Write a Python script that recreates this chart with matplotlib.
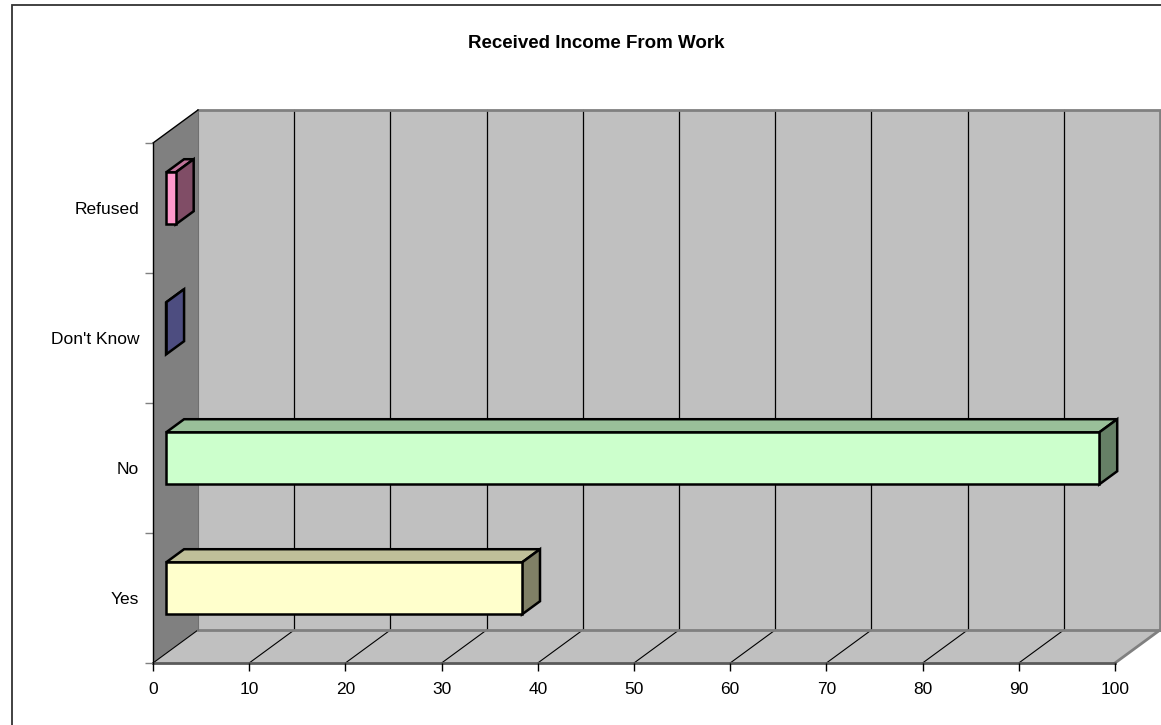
import matplotlib
matplotlib.use("Agg")
import matplotlib.pyplot as plt
from matplotlib.patches import Polygon, Rectangle
from matplotlib.colors import to_rgb

plt.rcParams['font.family'] = ['Liberation Sans', 'DejaVu Sans']

categories = ["Yes", "No", "Don't Know", "Refused"]
values = [37, 97, 0, 1]
bar_colors = ['#FFFFCC', '#CCFFCC', '#9999FF', '#FF99CC']
x_ticks = [0, 10, 20, 30, 40, 50, 60, 70, 80, 90, 100]

# depth of the fake 3d box, in data units (value, category)
DX = 4.68
DY = 0.254
F0, F1 = 0.29, 0.69   # bar sits between these depth fractions
HALF = 0.2


def shade(c, f):
    r, g, b = to_rgb(c)
    return (r * f, g * f, b * f)


fig = plt.figure(figsize=(11.61, 7.25), dpi=100)
fig.patch.set_facecolor('white')

# outer chart frame (runs off the right and bottom of the picture)
fig.add_artist(Rectangle((12 / 1161, -0.05), 1.1, 1 - 5 / 725 + 0.05,
                         transform=fig.transFigure, fill=False,
                         edgecolor='#333333', lw=1.3))

ax = fig.add_axes([153 / 1161, 1 - 663 / 725, 962 / 1161, 520 / 725])
ax.set_facecolor('none')

y0, y1 = -0.5, len(categories) - 0.5
x0, x1 = x_ticks[0], x_ticks[-1]

# back wall
ax.add_patch(Rectangle((x0 + DX, y0 + DY), x1 - x0, y1 - y0, facecolor='#C0C0C0',
                       edgecolor='none', clip_on=False, zorder=0))
# left wall
ax.add_patch(Polygon([(x0, y0), (x0, y1), (x0 + DX, y1 + DY), (x0 + DX, y0 + DY)],
                     facecolor='#808080', edgecolor='none', clip_on=False, zorder=0))
# floor
ax.add_patch(Polygon([(x0, y0), (x1, y0), (x1 + DX, y0 + DY), (x0 + DX, y0 + DY)],
                     facecolor='#C0C0C0', edgecolor='none', clip_on=False, zorder=0))

# gridlines on back wall and floor
for t in x_ticks[1:-1]:
    ax.plot([t + DX, t + DX], [y0 + DY, y1 + DY], color='black', lw=0.9,
            clip_on=False, zorder=0.5)
for t in x_ticks[:-1]:
    ax.plot([t, t + DX], [y0, y0 + DY], color='black', lw=0.8,
            clip_on=False, zorder=0.5)

# wall edges
ax.plot([x0 + DX, x1 + DX, x1 + DX], [y1 + DY, y1 + DY, y0 + DY], color='#808080',
        lw=2, clip_on=False, zorder=0.6, solid_joinstyle='miter')
ax.plot([x0 + DX, x1 + DX], [y0 + DY, y0 + DY], color='#808080', lw=2,
        clip_on=False, zorder=0.6)
ax.plot([x0 + DX, x0 + DX], [y0 + DY, y1 + DY], color='#707070', lw=0.8,
        clip_on=False, zorder=0.6)
ax.plot([x1, x1 + DX], [y0, y0 + DY], color='#808080', lw=2,
        clip_on=False, zorder=0.6)
ax.plot([x0, x1], [y0, y0], color='#5a5a5a', lw=2, clip_on=False, zorder=0.6)
ax.plot([x0, x0 + DX], [y1, y1 + DY], color='black', lw=1, clip_on=False, zorder=0.6)

# bars
for i, (v, c) in enumerate(zip(values, bar_colors)):
    fx0, fx1 = x0 + F0 * DX, v + F0 * DX
    bx0, bx1 = x0 + F1 * DX, v + F1 * DX
    fb, ft = i - HALF + F0 * DY, i + HALF + F0 * DY
    bb, bt = i - HALF + F1 * DY, i + HALF + F1 * DY
    kw = dict(edgecolor='black', lw=1.8, joinstyle='miter', clip_on=False, zorder=2)
    ax.add_patch(Polygon([(fx0, ft), (fx1, ft), (bx1, bt), (bx0, bt)],
                         facecolor=shade(c, 0.75), **kw))
    ax.add_patch(Polygon([(fx1, fb), (fx1, ft), (bx1, bt), (bx1, bb)],
                         facecolor=shade(c, 0.5), **kw))
    ax.add_patch(Polygon([(fx0, fb), (fx1, fb), (fx1, ft), (fx0, ft)],
                         facecolor=c, **kw))

ax.set_xlim(x0, x1)
ax.set_ylim(y0, y1)

for s in ['top', 'right', 'bottom']:
    ax.spines[s].set_visible(False)
ax.spines['left'].set_color('black')
ax.spines['left'].set_linewidth(1)

ax.set_xticks(x_ticks)
ax.set_xticklabels([str(t) for t in x_ticks])
ax.tick_params(axis='x', direction='out', length=6, width=1, color='black',
               labelsize=12.5, pad=8, labelcolor='black')

ax.set_yticks([k - 0.5 for k in range(len(categories) + 1)])
ax.set_yticklabels([])
ax.set_yticks(range(len(categories)), minor=True)
ax.set_yticklabels(categories, minor=True)
ax.tick_params(axis='y', which='major', direction='out', length=6, width=1,
               color='#808080')
ax.tick_params(axis='y', which='minor', length=0, pad=10, labelsize=12.5)

fig.text(596 / 1161, 1 - 43 / 725, "Received Income From Work", ha='center',
         va='center', fontsize=13.5, fontweight='bold')

fig.savefig("out.png", dpi=100)
